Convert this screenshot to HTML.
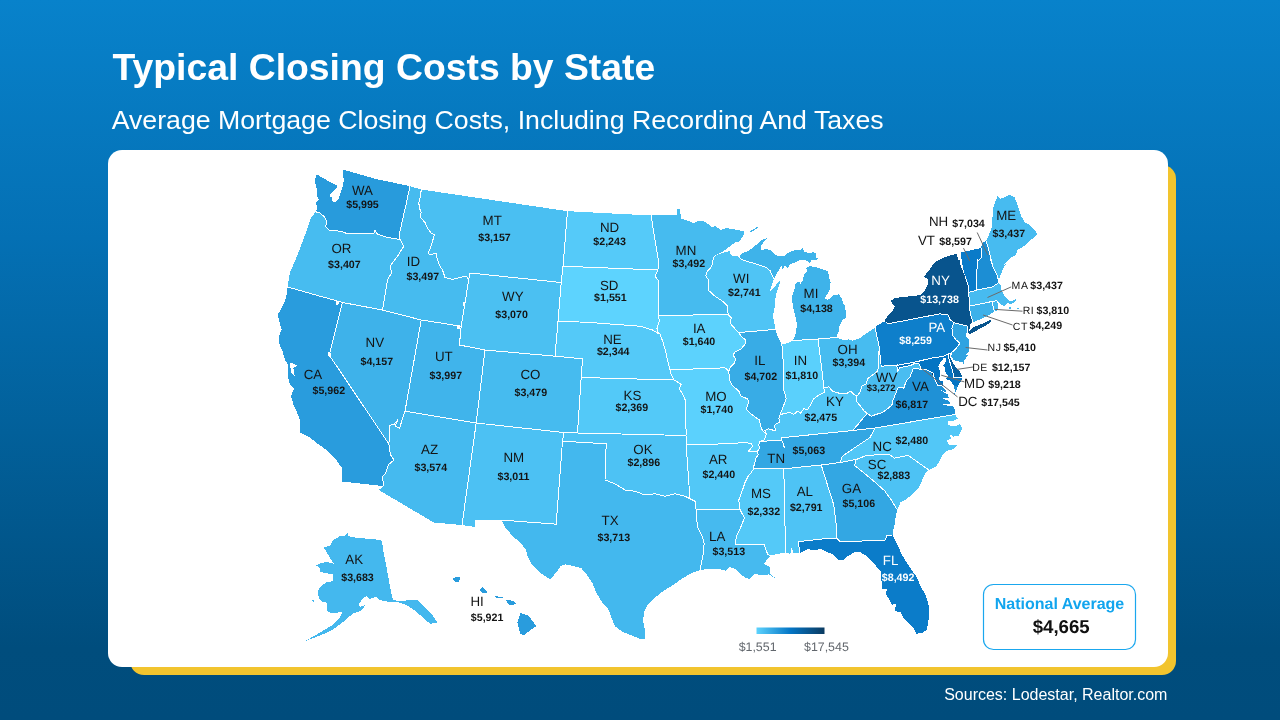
<!DOCTYPE html>
<html lang="en">
<head>
<meta charset="utf-8">
<title>Typical Closing Costs by State</title>
<style>
html,body{margin:0;padding:0}
body{width:1280px;height:720px;overflow:hidden;position:relative;font-family:"Liberation Sans",sans-serif;
background:linear-gradient(180deg,#0882cb 0%,#0470b4 33%,#02609a 60%,#004d7d 90%,#004c7c 100%)}
.title{position:absolute;left:112.5px;top:44.8px;margin:0;font-size:37.33px;font-weight:bold;color:#fff;line-height:44px;white-space:nowrap}
.sub{position:absolute;left:111.7px;top:104.1px;margin:0;font-size:26.7px;font-weight:normal;color:#fff;line-height:32px;white-space:nowrap}
.shadow{position:absolute;left:130px;top:165px;width:1046px;height:510px;border-radius:14px;background:#f2c42e}
.card{position:absolute;left:108px;top:150px;width:1060px;height:517px;border-radius:14px;background:#fff}
.src{position:absolute;right:112.6px;top:686.1px;font-size:16px;color:#fff;line-height:18px;white-space:nowrap}
svg{position:absolute;left:0;top:0}
svg text{font-family:"Liberation Sans",sans-serif;text-rendering:geometricPrecision}
.ab{font-size:13.33px;text-anchor:middle}
.ab.sm{font-size:10.5px;letter-spacing:0.6px}
.va{font-size:10.67px;font-weight:bold;text-anchor:middle}
.va.wv{font-size:9.4px}
.lg{font-size:12.4px;fill:#62676d;text-anchor:middle}
</style>
</head>
<body>
<h1 class="title">Typical Closing Costs by State</h1>
<h2 class="sub">Average Mortgage Closing Costs, Including Recording And Taxes</h2>
<div class="shadow"></div>
<div class="card"></div>
<svg width="1280" height="720" viewBox="0 0 1280 720">
<defs>
<linearGradient id="lg" x1="0" x2="1" y1="0" y2="0">
<stop offset="0" stop-color="#5dd3fe"/><stop offset="0.5" stop-color="#0475c5"/><stop offset="1" stop-color="#0b3a60"/>
</linearGradient>
</defs>
<g stroke="none" shape-rendering="crispEdges">
<path d="M323.8,547.5 330,545.6 333.1,540 340,536.2 345,535.6 347.5,533.1 348.8,536.2 355,537.5 365,538.5 375,539.4 381.9,540.6 383.1,550 386.2,565 388.8,580 391.2,592.5 393.1,600 400,601.2 410,600 417.5,600 432.5,615 437.5,622.5 430,623.8 420,615 412.5,608.8 406.2,605 397.5,602 387.5,601.5 380,600.2 376.2,597.2 371.2,597.8 370,600 366.2,596.2 361.9,599.4 358.5,605 360,606.9 365,605 363.8,607.5 360,611.2 352.5,613.8 342.5,622.5 332.5,630 320,635.5 305,641.2 320,632.5 332.5,625 340,617.5 342.5,612 337.5,612.5 330,612.5 326.9,611.2 327.5,606.2 326.2,602.5 321.2,601.2 319.4,598.8 317.5,593.8 318.8,588.8 322.5,585 326.2,582.5 333.1,581.2 333.1,574.4 326.2,573.1 320,571.9 320,568.1 316.2,565.6 318.8,563.8 326.2,561.9 334.4,563.8 331.2,560 327.5,553.8ZM311.2,600 314.4,600.4 313.8,602.2Z" fill="#44b8ee"/>
<path d="M783.8,468.8 821.2,465 833.8,505 836.2,525 836.2,538 821.2,539.1 798.4,541.6 799.7,552.8 793.5,553.4 791.6,547.2 790.3,553.8 785.6,552.8 783.8,468.8Z" fill="#4ec3f5"/>
<path d="M686.2,445 725,443.8 746.2,442.5 751.2,443.8 752.5,446.2 750,449.4 748.1,451.2 757.5,451.2 758.1,455 755.6,458.8 755,462.5 753.8,466.2 753.8,468.8 751.2,472.5 748.1,476.2 745,482.5 742.5,490 738.8,500 740,509.5 696.2,510 695,501.2 690,498.8 689.5,492.5 686.2,445Z" fill="#52c8f7"/>
<path d="M405,411.2 476.2,423 462,525 433.8,522.5 378.8,490 383.8,486.2 383.8,484.4 381.9,476.9 385.6,473.1 388.4,464.7 394.1,460 390.3,454.4 388.8,443.8 389.8,433.8 389.4,425.3 394.1,424.4 397.8,419.7 395,426.2 399.7,428.1 402.1,419.7 405,411.2Z" fill="#45baef"/>
<path d="M287.5,287 342.5,302.5 329.2,355 388.8,443.8 390.3,454.4 394.1,460 388.4,464.7 385.6,473.1 381.9,476.9 383.8,484.4 383.8,486.2 342.5,481.6 341.6,467.5 335,458.1 327.5,450.6 318.1,444.1 309.7,437.5 300.3,432.8 300.3,420.6 296.6,411.2 293.8,405.6 290.9,396.2 293.8,388.8 290,385 288.1,377.5 288.1,364.4 285.3,360.6 282.5,351.2 278.8,342.8 278.8,336.2 281.6,329.7 279.7,323.1 277.8,314.7 282.5,306.2 286.2,297.8 287.5,287Z" fill="#299cdd"/>
<path d="M485,350 555,356.2 582.5,358.8 581.2,377.5 577.5,433 563.8,432.5 476.2,423 485,350Z" fill="#46bbef"/>
<path d="M969.4,306.2 991.9,301.5 993.8,309.4 994.4,311.9 988.8,315 980,319.4 973.8,321.9 972.5,320.6 970.6,315 969.4,306.2Z" fill="#3db1ea"/>
<path d="M948.1,354.5 949.4,353.4 950.6,353.1 950,357.5 951.9,361.2 954.4,365 956.2,368.1 959.4,371.2 961.6,375 961.9,377.2 953.8,377.5 953.1,373.8 951.2,366.2 949.4,360.6 948.1,354.5Z" fill="#0760a0"/>
<path d="M836.2,538 840.6,541.9 885.6,540 886.6,535.3 892.5,535 897.8,545.6 902.5,555.9 909.1,566.2 915.6,575.6 921.2,586.9 925.9,596.2 928.8,605.6 929.1,616.9 927.8,624.4 926.9,630 922.2,632.8 916.6,633.8 913.8,628.1 908.1,622.5 903.4,617.8 900.6,612.2 895,611.2 895.9,603.8 892.2,604.7 888.4,598.1 885.6,593.4 887.5,588.8 881.9,588.8 881.5,581.2 880.9,571.9 876.2,566.2 870.6,560.6 865,555 860.3,552.2 854.7,552.2 848.1,555.9 843.4,559.7 837.8,559.7 833.1,554.1 827.5,552.2 821.2,549.1 813.8,550 807.2,549.1 802.5,551.9 799.7,552.8 798.4,541.6 821.2,539.1 836.2,538Z" fill="#0b7cc9"/>
<path d="M821.2,465 840,462.5 856.2,459.5 854.7,465.6 863.1,472.2 874.4,481.6 884.7,490.9 892.2,501.2 895.9,507.8 897.5,510 895.9,514.4 895,523.8 892.8,531.2 892.5,535 886.6,535.3 885.6,540 840.6,541.9 836.2,538 836.2,525 833.8,505 821.2,465Z" fill="#33a7e3"/>
<path d="M452,578.8 456.2,577 460,577.5 459.2,581.5 455,582ZM480,589.7 482.8,587.2 487.5,592.5 481.9,592.9ZM495,596.2 503.4,597 503.1,598.1 495,597.4ZM506.2,599.6 513.8,600.9 516.6,603.8 510.9,605.6 507.2,602.8ZM520.3,613.1 528.8,615.9 536.2,626.2 530.6,630 524.1,635.2 520.3,633.8 517.5,622.5Z" fill="#299cdd"/>
<path d="M658.1,315.6 728.1,314.4 731.2,317.5 730.6,323.8 735,328.8 738.8,332.5 741.2,336.2 745.6,340 745,344.4 741.2,348.8 735,351.9 733.1,355 735.6,358.8 734.4,363.1 730.6,366.9 728.8,371.2 725,367.8 702.5,368.8 670,369.5 668.1,362.5 665.6,351.2 663.1,342.5 660,333.8 658.8,333.8 656.9,328.8 659.4,320.6 658.1,315.6Z" fill="#5cd2fd"/>
<path d="M410,186.2 421.2,189.5 420.6,196.2 418.8,202.5 419.4,208.1 421.2,212.5 420,216.9 425,222.5 427.5,228.1 431.2,233.1 434.4,235 432.5,241.2 430.6,247.5 428.1,252.5 430,255 433.8,253.8 436.2,253.8 437.5,260 440,266.2 442.5,270 445,277.5 452.5,279.5 460,277.5 466.2,276.2 468.8,279.5 461.2,326.2 421.2,320 382.5,310 387.5,280 391.8,272.5 390,266.2 397.5,256.2 403.8,246.2 400,239.5 399.4,233.8 402.5,220 406.2,203.8 410,186.2Z" fill="#46bbef"/>
<path d="M738.8,332.5 775.6,329.4 777.5,336.2 780.6,342.5 781.9,344.4 782.5,355 783.8,365 783.8,390 785,393.8 786.2,398.8 783.8,405 781.9,410 780,415 778.8,418.8 780,421.9 776.2,423.8 774.4,425.6 775.6,430.6 772.5,430 768.1,428.8 765,430.6 766.2,433.8 762.5,430.6 760.6,426.2 759.4,420 755,416.9 750,413.1 746.2,408.8 748.8,402.5 747.5,398.8 741.2,396.2 738.8,391.2 731.9,385 729.4,380 728.8,371.2 730.6,366.9 734.4,363.1 735.6,358.8 733.1,355 735,351.9 741.2,348.8 745,344.4 745.6,340 741.2,336.2 738.8,332.5Z" fill="#38ace6"/>
<path d="M781.9,344.4 787.5,343.1 793.1,340.6 818.1,339 820,355 821.9,370 823.8,387.5 824.4,392.5 818.8,395 813.8,398.8 810.6,405 807.5,409.4 803.8,408.8 800.6,413.1 797.5,411.2 793.8,414.4 790,412.5 786.2,413.1 783.1,413.8 780,415 781.9,410 783.8,405 786.2,398.8 785,393.8 783.8,390 783.8,365 782.5,355 781.9,344.4Z" fill="#5ad0fc"/>
<path d="M581.2,377.5 673.8,380 677.5,381.9 681.2,384.4 679.4,388.8 683.1,395 685.2,400 686.2,435.5 577.5,433 581.2,377.5Z" fill="#53c9f8"/>
<path d="M766.2,433.8 765,430.6 768.1,428.8 772.5,430 775.6,430.6 774.4,425.6 776.2,423.8 780,421.9 778.8,418.8 780,415 783.1,413.8 786.2,413.1 790,412.5 793.8,414.4 797.5,411.2 800.6,413.1 803.8,408.8 807.5,409.4 810.6,405 813.8,398.8 818.8,395 824.4,392.5 823.8,387.5 828.8,386.9 832.5,391.2 838.8,393.1 846.2,393.8 850.6,391.2 853.8,394.4 856.9,396.2 856.2,401.2 860.6,406.2 863.8,410.6 867.5,413.8 862.5,418.8 857.5,425 852.5,430.5 781.2,437.8 781.5,440.6 760,441.2 763.8,440 765.6,437.5 766.2,433.8Z" fill="#52c7f7"/>
<path d="M696.2,510 740,509.5 744.4,518.1 740.6,527.5 736.9,535 735,544.4 764.1,544.4 767.8,554.7 770.6,555.6 766.9,559.4 764.1,564.1 769.7,566.9 770.6,574.4 775.3,578.1 768.8,574.4 761.2,575.3 754.7,573.4 750,579.1 744.4,577.2 738.8,572.5 735,568.8 729.4,566.9 725.6,570.6 718.1,568.8 708.8,568.8 700,570 701.2,564.4 703.1,555 704.1,543.8 702.2,536.2 697.5,526.9 696.6,517.5 696.2,510Z" fill="#46baef"/>
<path d="M968.8,292.5 976.9,290 992.5,286.9 998.1,283.1 1001.2,285 1000.6,288.1 1003.1,293.8 1005.6,297.5 1010,301.2 1014.4,300.2 1016,299 1016.5,300.2 1013.8,302.5 1010.6,304 1007.5,303.1 1003.8,306.2 1000,303.8 996.9,300.6 991.9,301.5 969.4,306.2 968.8,292.5ZM1016.5,307.5 1018.5,307.5 1018.5,308.8 1016.5,308.8ZM1008.8,307.5 1011,307.2 1011.2,308.8 1009,308.8Z" fill="#47bbf0"/>
<path d="M896.9,365.6 900,364.7 912.5,362.5 920,360.9 931.2,358.1 943.1,356.4 946.2,355 948.1,354.5 949.4,360.6 951.2,366.2 953.1,373.8 953.8,377.5 961.9,377.2 961.6,380 960,382.5 957.5,386.5 953.8,385.6 950,380 948.1,380.6 946.2,378.8 948.1,376.2 946.6,373.8 945.3,371.2 945,367.5 943.1,366.2 943.8,364.4 946.6,361.2 946.2,358.8 944.1,357.8 943.1,358.8 940.6,361.9 938.8,365 938.4,366.9 939.4,369.4 940,372.5 940,376.2 938.8,378.8 940,380.6 942.5,381.2 942.5,385 945,388.8 942.5,386.2 937.5,385 934.1,377.5 933.1,373.1 929.4,371.2 925,369.2 921.2,369.4 920.3,366.2 918.8,363.6 914.7,363.2 911.9,364.9 906.2,366.4 900,367.6 897.5,371.9 896.9,365.6Z" fill="#0474c3"/>
<path d="M986.2,241.2 989.4,233.8 991.9,227.5 992.5,217.5 993.1,208.8 995,202.5 997.5,196.2 1000.6,198.8 1005,196.9 1009.4,195 1014.4,196.9 1017.5,205 1021.2,216.2 1025,222.5 1030,225 1034.4,230 1037.5,233.8 1034.4,237.5 1030,240 1025.6,245 1021.2,248.1 1017.5,250 1015.6,255 1011.2,257.5 1007.5,261.2 1003.8,265 1006.2,263.8 1003.8,267.5 1001.9,271.9 1000,276.2 998.8,281.9 997.5,276.2 993.8,268.8 990.6,260 992.5,265 988.8,250 986.2,241.2Z" fill="#47bbf0"/>
<path d="M738.8,256.2 742.5,253.1 748.8,250.6 753.8,246.9 757.5,243.8 761.2,240 766.9,238.1 763.8,241.9 760.6,246.9 761.2,250.6 765,249 770,250 773.8,253.8 778.8,256.2 783.8,256.2 787.5,253.1 792.5,250.6 800,250 802.5,248.1 804.4,251.9 808.8,253.1 813.8,252.2 816,253.8 816.2,257.5 818.8,259 815,260 811.9,260 809.4,263.1 807.5,260.6 800,260.2 795,262.5 790,264.4 788.1,268.1 785,265.6 782.5,268.8 781.2,265.6 778.8,270 776.2,275 773.8,278.8 771.9,275 770,270.6 766.2,267.5 757.5,264.4 748.8,261.9 741.2,259.4 738.8,256.2ZM793.1,340.6 795.6,333.8 796.9,326.2 796.2,318.8 793.8,311.2 793.1,306.2 791.9,300 792.5,295 794.4,290 795.6,283.8 799.4,281.2 800,284.4 803.1,280 803.8,274.4 807.5,271.2 806.2,268.1 809.4,266.2 815,266.9 822.5,269.4 828.1,271.2 828.8,276.2 830.6,282.5 830,288.8 827.5,293.8 824.4,298.1 827.5,300 831.2,297.5 833.8,295 838.8,294.4 841.9,298.8 843.8,305 844.4,305 846.2,312.5 845.6,318.1 842.5,320 839.4,326.2 838.8,331.2 836.2,337.5 818.1,339 793.1,340.6ZM750,231.2 757.5,226.8 758.2,227.5 751.2,232Z" fill="#3eb3ea"/>
<path d="M651.2,215.5 676.9,215 677.5,208.8 679.4,208.5 680.6,214.4 681.2,218.8 686.2,220 693.8,223.1 697.5,221.2 703.8,221.2 708.8,224.4 711.9,227.5 715,226.2 721.2,230 727.5,227.5 730.6,229.4 735,229.4 740,230.6 743.8,230.6 744.4,233.8 741.9,237.5 740,241.2 735,242.5 730,246.2 725,250 720,253.1 715,255.6 714.2,256.2 712.5,261.2 711.9,266.2 707.5,271.2 705.6,275.6 708.1,279.4 708.1,285 708.2,290 715,296.2 722.5,301.2 727.5,306.2 728.1,314.4 658.1,315.6 658.8,281.2 655,276.2 658,270 658.1,258.8 656.2,247.5 654.4,236.2 652.5,225 651.2,215.5Z" fill="#46bbef"/>
<path d="M670,369.5 702.5,368.8 725,367.8 728.8,371.2 729.4,380 731.9,385 738.8,391.2 741.2,396.2 747.5,398.8 748.8,402.5 746.2,408.8 750,413.1 755,416.9 759.4,420 760.6,426.2 762.5,430.6 766.2,433.8 765.6,437.5 763.8,440 760,441.2 758.8,445 759.4,448.8 757.5,451.2 748.1,451.2 750,449.4 752.5,446.2 751.2,443.8 746.2,442.5 725,443.8 686.2,445 686.2,435.5 685.2,400 683.1,395 679.4,388.8 681.2,384.4 677.5,381.9 673.8,380 671.2,374.4 670,369.5Z" fill="#5bd1fd"/>
<path d="M753.8,468.8 783.8,468.8 785.6,552.8 778.1,553.8 770.6,555.6 767.8,554.7 764.1,544.4 735,544.4 736.9,535 740.6,527.5 744.4,518.1 740,509.5 738.8,500 742.5,490 745,482.5 748.1,476.2 751.2,472.5 753.8,468.8Z" fill="#54c9f8"/>
<path d="M421.2,189.5 567.5,211.2 563,266.2 561.2,282.5 470,273 468.8,279.5 466.2,276.2 460,277.5 452.5,279.5 445,277.5 442.5,270 440,266.2 437.5,260 436.2,253.8 433.8,253.8 430,255 428.1,252.5 430.6,247.5 432.5,241.2 434.4,235 431.2,233.1 427.5,228.1 425,222.5 420,216.9 421.2,212.5 419.4,208.1 418.8,202.5 420.6,196.2 421.2,189.5Z" fill="#4abff2"/>
<path d="M875,428 955,414.5 957.8,418.8 951.2,421.6 947.5,420.6 948.4,425.3 955,426.2 959.7,424.4 962.5,428.1 958.8,435.6 953.1,436.6 949.4,433.8 951.2,438.4 946.6,440.3 949.4,445 957.8,445 954.1,448.8 947.5,450.6 942.8,454.4 940,460 936.2,466.6 928.8,470 908.1,455.3 894.1,458.1 889.4,454.4 866.9,455.3 856.2,459.5 840,462.5 842.5,456.2 855,447.5 870,437.5 875,428Z" fill="#52c7f7"/>
<path d="M567.5,211.2 651.2,215.5 652.5,225 654.4,236.2 656.2,247.5 658.1,258.8 658,270 563,266.2 567.5,211.2Z" fill="#55caf9"/>
<path d="M558,321 590,322.5 640,326.2 652.5,330 658.8,333.8 660,333.8 663.1,342.5 665.6,351.2 668.1,362.5 670,369.5 671.2,374.4 673.8,380 581.2,377.5 582.5,358.8 555,356.2 558,321Z" fill="#54c9f8"/>
<path d="M982.8,242.1 986.2,241.2 988.8,250 992.5,265 990.6,260 993.8,268.8 997.5,276.2 998.8,281.9 998.1,283.1 992.5,286.9 976.9,290 976.2,281.2 976.9,271.2 977.5,260 978.1,261.2 981.2,257.5 981.9,252.5 981,248.1Z" fill="#1c8ed4"/>
<path d="M953.8,322.8 967.5,326.2 967.2,330.6 966.2,333.8 965.6,336.2 968.1,338.1 969.1,340 968.8,346.2 968.8,351.2 966.2,354.4 967.8,355.6 966.2,357.5 964.4,360.6 962.8,366.2 962.5,361.9 960,361.6 956.2,361.2 953.1,359.4 951.2,356.2 951.9,353.4 950.6,353.1 953.1,351.2 956.2,348.1 959.4,344.1 960,343.1 956.2,340 952.5,335 951.9,328.1 953.8,322.8Z" fill="#2fa3e1"/>
<path d="M476.2,423 563.8,432.5 562.5,441.2 556.2,524.2 501.2,520 475,520 475,527 462,525 476.2,423Z" fill="#4cc1f3"/>
<path d="M342.5,302.5 382.5,310 421.2,320 405,411.2 402.1,419.7 399.7,428.1 395,426.2 397.8,419.7 394.1,424.4 389.4,425.3 389.8,433.8 388.8,443.8 329.2,355 342.5,302.5Z" fill="#3eb2ea"/>
<path d="M885.6,321.9 885,320 887.5,316.2 892.5,311.2 895,306.2 891.9,303.8 891.2,300.6 895,298.1 902.5,296.9 912.5,296.2 920,295 925,290 928.1,283.8 927.5,278.8 923.8,276.9 926.2,273.8 929.4,270 932.5,265 936.2,261.2 942.5,258.1 950,255.6 956.9,253.8 958.1,260 959.4,260 961.2,267.5 965,276.2 968.1,285 968.8,292.5 969.4,306.2 970.6,315 972.5,320.6 971.9,322.5 970.2,324.4 969.8,328.1 968.8,332.8 967.5,331.5 967.5,326.2 953.8,322.8 950,319.4 948.1,315 940,313.8 888.1,323.8 885.6,321.9Z" fill="#08548d"/>
<path d="M968.1,332.8 972.5,327.6 978.8,325 985,322.5 991,319.8 990.8,321.8 986.2,325.4 980,328.6 973.8,332 969.4,334.5Z" fill="#08548d"/>
<path d="M818.1,339 836.2,337.5 840,338.8 845,340.6 848.8,339.4 852.5,340.6 860,338.1 867.5,332.5 875,327.5 876.9,336.2 879.5,348.1 878.8,352.5 878.1,360 878.8,366.2 877.5,371.2 872.5,375 867.5,378.8 866.2,383.8 861.9,386.2 860,392.5 856.9,396.2 853.8,394.4 850.6,391.2 846.2,393.8 838.8,393.1 832.5,391.2 828.8,386.9 823.8,387.5 821.9,370 820,355 818.1,339Z" fill="#47bcf0"/>
<path d="M563.8,432.5 577.5,433 686.2,435.5 686.2,445 689.5,492.5 690,498.8 685,496.2 675,493.8 665,496.2 655,493.8 645,495 635,491.2 625,490 615,483.8 605,480 606.2,443.8 562.5,441.2 563.8,432.5Z" fill="#4dc2f4"/>
<path d="M315.8,211.8 320,213.1 324.4,216.9 326.9,221.2 325.6,226.9 330,230.6 341.2,231.2 347.5,233.8 360,233.8 373.8,233.8 375,230 376.9,233.8 387.5,237.5 400,239.5 403.8,246.2 397.5,256.2 390,266.2 391.8,272.5 387.5,280 382.5,310 342.5,302.5 287.5,287 290,272.5 297.5,255 305,235 311.2,217.5 315.8,211.8Z" fill="#47bcf0"/>
<path d="M875,327.5 876.2,326.2 884.4,321.2 885,323.1 885.6,321.9 888.1,323.8 940,313.8 948.1,315 950,319.4 953.8,322.8 951.9,328.1 952.5,335 956.2,340 960,343.1 959.4,344.1 956.2,348.1 953.1,351.2 950.6,353.1 949.4,353.4 948.1,354.5 946.2,355 943.1,356.4 931.2,358.1 920,360.9 912.5,362.5 900,364.7 896.9,365.6 897.5,365 881.2,366.2 880.2,357.5 879.5,348.1 876.9,336.2 875,327.5Z" fill="#0e7fcb"/>
<path d="M991.9,301.5 996.9,300.6 998.1,305 997.5,310 994.4,311.9 993.8,309.4 991.9,301.5Z" fill="#42b7ed"/>
<path d="M856.2,459.5 866.9,455.3 889.4,454.4 894.1,458.1 908.1,455.3 928.8,470 924.1,475 921.2,482.5 918.4,488.1 911.9,494.7 906.2,499.4 900.6,502.2 897.5,510 895.9,507.8 892.2,501.2 884.7,490.9 874.4,481.6 863.1,472.2 854.7,465.6 856.2,459.5Z" fill="#4dc2f4"/>
<path d="M563,266.2 658,270 655,276.2 658.8,281.2 658.1,315.6 659.4,320.6 656.9,328.8 658.8,333.8 652.5,330 640,326.2 590,322.5 558,321 561.2,282.5 563,266.2Z" fill="#5dd3fe"/>
<path d="M760,441.2 781.5,440.6 781.2,437.8 852.5,430.5 875,428 870,437.5 855,447.5 842.5,456.2 840,462.5 821.2,465 783.8,468.8 753.8,468.8 753.8,466.2 755,462.5 755.6,458.8 758.1,455 757.5,451.2 759.4,448.8 758.8,445 760,441.2Z" fill="#33a7e3"/>
<path d="M562.5,441.2 606.2,443.8 605,480 615,483.8 625,490 635,491.2 645,495 655,493.8 665,496.2 675,493.8 685,496.2 690,498.8 695,501.2 696.2,510 696.6,517.5 697.5,526.9 702.2,536.2 704.1,543.8 703.1,555 701.2,564.4 700,570 690,573.8 682.5,578.4 673.1,585 663.8,590.6 654.4,598.1 647.8,604.7 644.1,612.2 643.1,620.6 645,630 645.5,638.8 641.2,639.4 631.9,635.6 622.5,631.9 615,626.2 611.2,616.9 608.4,609.4 601.9,601.9 596.2,592.5 592.5,583.1 586.9,574.7 581.2,568.1 573.8,566.2 565.3,564.4 560.6,566.2 555.9,572.8 550.3,579.4 540,572.8 531.6,564.4 527.8,556.9 525.9,549.4 520.3,542.8 512.8,536.2 506.2,528.8 501.2,520 556.2,524.2 562.5,441.2Z" fill="#43b8ee"/>
<path d="M421.2,320 461.2,326.2 459.4,345 485,350 476.2,423 405,411.2 421.2,320Z" fill="#40b4eb"/>
<path d="M852.5,430.5 857.5,425 862.5,418.8 867.5,413.8 871.2,416.2 876.2,414.4 882.5,412.5 887.5,408.8 891.9,405 893.1,400 896.2,392.5 898.1,387.5 903.8,388.1 906.2,381.2 910,376.9 913.4,368.2 921.2,369.4 925,369.2 929.4,371.2 933.1,373.1 934.1,377.5 937.5,385 942.5,386.2 945,388.8 946.2,392.5 940,389.8 947.5,394.4 948.8,397.5 941.9,398.1 949.4,401.2 950,403.8 940.6,404 950,406.2 952.5,405.6 955,410 955,414.5 875,428 852.5,430.5ZM953.8,385.6 957.5,386.5 956.2,391.2 953.8,395.6 955,391.2Z" fill="#1f91d6"/>
<path d="M960.6,252.5 981,248.1 981.9,252.5 981.2,257.5 978.1,261.2 977.5,260 976.9,271.2 976.2,281.2 976.9,290 968.8,292.5 968.1,285 965,276.2 962.8,267.5 961.9,260 961.9,261.2 960.6,252.5Z" fill="#0a7bc9"/>
<path d="M315.8,211.8 317.5,206.9 315.6,202.5 318.8,200 316.9,196.2 317.5,191.2 315.6,185 315,178.8 316.9,174.4 321.9,177.5 327.5,180.6 333.8,183.8 337.5,185.6 335.6,189.4 330,195 329.4,196.9 331.9,197.5 332.5,201.2 335,202.5 338.8,198.8 340,193.8 342.5,187.5 343.8,180 342.5,169.4 375,178.8 410,186.2 406.2,203.8 402.5,220 399.4,233.8 400,239.5 387.5,237.5 376.9,233.8 375,230 373.8,233.8 360,233.8 347.5,233.8 341.2,231.2 330,230.6 325.6,226.9 326.9,221.2 324.4,216.9 320,213.1 315.8,211.8Z" fill="#289bdc"/>
<path d="M714.2,256.2 720,253.8 726.2,251.9 730,251.2 730.6,255 735,256.2 738.8,256.2 741.2,259.4 748.8,261.9 757.5,264.4 766.2,267.5 770,270.6 771.9,275 773.8,278.8 771.9,285 769.4,291.5 773.1,288.8 777.5,283.1 780.6,279.4 779.4,285 776.9,291.2 775.6,297.5 775,302.5 774.4,308.8 773.1,315 773.8,321.2 775.6,329.4 738.8,332.5 735,328.8 730.6,323.8 731.2,317.5 728.1,314.4 727.5,306.2 722.5,301.2 715,296.2 708.2,290 708.1,285 708.1,279.4 705.6,275.6 707.5,271.2 711.9,266.2 712.5,261.2 714.2,256.2Z" fill="#4fc4f5"/>
<path d="M856.9,396.2 860,392.5 861.9,386.2 866.2,383.8 867.5,378.8 872.5,375 877.5,371.2 878.8,366.2 878.1,360 878.8,352.5 879.5,348.1 880.2,357.5 881.2,366.2 897.5,365 896.9,365.6 897.5,371.9 900,367.6 906.2,366.4 911.9,364.9 914.7,363.2 918.8,363.6 920.3,366.2 921.2,369.4 913.4,368.2 910,376.9 906.2,381.2 903.8,388.1 898.1,387.5 896.2,392.5 893.1,400 891.9,405 887.5,408.8 882.5,412.5 876.2,414.4 871.2,416.2 867.5,413.8 863.8,410.6 860.6,406.2 856.2,401.2 856.9,396.2Z" fill="#49bdf1"/>
<path d="M468.8,279.5 470,273 561.2,282.5 558,321 555,356.2 485,350 459.4,345 461.2,326.2 468.8,279.5Z" fill="#4bc0f2"/>
<circle cx="933.1" cy="373.7" r="1.2" fill="#0b3a60" stroke="none"/>
<path d="M290,362.5 297.5,365.3 293.4,367.8 294.7,376.6 290.9,372.8 Z" fill="#fff" stroke="none"/>
<path d="M327.9,352.2 330.9,352.8 331.2,356.5 328.6,356.9 Z" fill="#fff" stroke="none"/>
<path d="M335.9,301 338.8,300.6 338.4,305.3 336.3,304.9 Z" fill="#fff" stroke="none"/>
<path d="M463.1,302.1 465.3,302.5 465.1,305.9 463.4,305.5 Z" fill="#fff" stroke="none"/>
<path d="M457.3,326 459.6,326 459.6,329.2 457.3,329.2 Z" fill="#fff" stroke="none"/>
</g>
<g stroke="#fff" stroke-width="1" fill="none" stroke-linejoin="round" shape-rendering="crispEdges">
<path d="M410,186.2 406.2,203.8 402.5,220 399.4,233.8 400,239.5M315.8,211.8 320,213.1 324.4,216.9 326.9,221.2 325.6,226.9 330,230.6 341.2,231.2 347.5,233.8 360,233.8 373.8,233.8 375,230 376.9,233.8 387.5,237.5 400,239.5M400,239.5 403.8,246.2 397.5,256.2 390,266.2 391.8,272.5 387.5,280 382.5,310M342.5,302.5 382.5,310M287.5,287 342.5,302.5M342.5,302.5 329.2,355 388.8,443.8M388.8,443.8 390.3,454.4 394.1,460 388.4,464.7 385.6,473.1 381.9,476.9 383.8,484.4 383.8,486.2M382.5,310 421.2,320M421.2,320 405,411.2M405,411.2 402.1,419.7 399.7,428.1 395,426.2 397.8,419.7 394.1,424.4 389.4,425.3 389.8,433.8 388.8,443.8M421.2,189.5 420.6,196.2 418.8,202.5 419.4,208.1 421.2,212.5 420,216.9 425,222.5 427.5,228.1 431.2,233.1 434.4,235 432.5,241.2 430.6,247.5 428.1,252.5 430,255 433.8,253.8 436.2,253.8 437.5,260 440,266.2 442.5,270 445,277.5 452.5,279.5 460,277.5 466.2,276.2 468.8,279.5M468.8,279.5 461.2,326.2M421.2,320 461.2,326.2M567.5,211.2 563,266.2M563,266.2 561.2,282.5M468.8,279.5 470,273 561.2,282.5M558,321 561.2,282.5M555,356.2 558,321M485,350 555,356.2M461.2,326.2 459.4,345 485,350M485,350 476.2,423M405,411.2 476.2,423M555,356.2 582.5,358.8 581.2,377.5M581.2,377.5 577.5,433M563.8,432.5 577.5,433M476.2,423 563.8,432.5M476.2,423 462,525M563.8,432.5 562.5,441.2M562.5,441.2 556.2,524.2 501.2,520M651.2,215.5 652.5,225 654.4,236.2 656.2,247.5 658.1,258.8 658,270M563,266.2 658,270M658,270 655,276.2 658.8,281.2 658.1,315.6M658.1,315.6 659.4,320.6 656.9,328.8 658.8,333.8M558,321 590,322.5 640,326.2 652.5,330 658.8,333.8M658.8,333.8 660,333.8 663.1,342.5 665.6,351.2 668.1,362.5 670,369.5M670,369.5 671.2,374.4 673.8,380M581.2,377.5 673.8,380M673.8,380 677.5,381.9 681.2,384.4 679.4,388.8 683.1,395 685.2,400 686.2,435.5M577.5,433 686.2,435.5M686.2,435.5 686.2,445M686.2,445 689.5,492.5 690,498.8M562.5,441.2 606.2,443.8 605,480 615,483.8 625,490 635,491.2 645,495 655,493.8 665,496.2 675,493.8 685,496.2 690,498.8M690,498.8 695,501.2 696.2,510M696.2,510 696.6,517.5 697.5,526.9 702.2,536.2 704.1,543.8 703.1,555 701.2,564.4 700,570M714.2,256.2 712.5,261.2 711.9,266.2 707.5,271.2 705.6,275.6 708.1,279.4 708.1,285 708.2,290 715,296.2 722.5,301.2 727.5,306.2 728.1,314.4M658.1,315.6 728.1,314.4M728.1,314.4 731.2,317.5 730.6,323.8 735,328.8 738.8,332.5M738.8,332.5 741.2,336.2 745.6,340 745,344.4 741.2,348.8 735,351.9 733.1,355 735.6,358.8 734.4,363.1 730.6,366.9 728.8,371.2M670,369.5 702.5,368.8 725,367.8 728.8,371.2M728.8,371.2 729.4,380 731.9,385 738.8,391.2 741.2,396.2 747.5,398.8 748.8,402.5 746.2,408.8 750,413.1 755,416.9 759.4,420 760.6,426.2 762.5,430.6 766.2,433.8M766.2,433.8 765.6,437.5 763.8,440 760,441.2M760,441.2 758.8,445 759.4,448.8 757.5,451.2M686.2,445 725,443.8 746.2,442.5 751.2,443.8 752.5,446.2 750,449.4 748.1,451.2 757.5,451.2M757.5,451.2 758.1,455 755.6,458.8 755,462.5 753.8,466.2 753.8,468.8M753.8,468.8 751.2,472.5 748.1,476.2 745,482.5 742.5,490 738.8,500 740,509.5M696.2,510 740,509.5M740,509.5 744.4,518.1 740.6,527.5 736.9,535 735,544.4 764.1,544.4 767.8,554.7 770.6,555.6M738.8,256.2 741.2,259.4 748.8,261.9 757.5,264.4 766.2,267.5 770,270.6 771.9,275 773.8,278.8M738.8,332.5 775.6,329.4M781.9,344.4 782.5,355 783.8,365 783.8,390 785,393.8 786.2,398.8 783.8,405 781.9,410 780,415M766.2,433.8 765,430.6 768.1,428.8 772.5,430 775.6,430.6 774.4,425.6 776.2,423.8 780,421.9 778.8,418.8 780,415M793.1,340.6 818.1,339M818.1,339 820,355 821.9,370 823.8,387.5M780,415 783.1,413.8 786.2,413.1 790,412.5 793.8,414.4 797.5,411.2 800.6,413.1 803.8,408.8 807.5,409.4 810.6,405 813.8,398.8 818.8,395 824.4,392.5 823.8,387.5M818.1,339 836.2,337.5M875,327.5 876.9,336.2 879.5,348.1M856.9,396.2 860,392.5 861.9,386.2 866.2,383.8 867.5,378.8 872.5,375 877.5,371.2 878.8,366.2 878.1,360 878.8,352.5 879.5,348.1M823.8,387.5 828.8,386.9 832.5,391.2 838.8,393.1 846.2,393.8 850.6,391.2 853.8,394.4 856.9,396.2M856.9,396.2 856.2,401.2 860.6,406.2 863.8,410.6 867.5,413.8M867.5,413.8 862.5,418.8 857.5,425 852.5,430.5M760,441.2 781.5,440.6 781.2,437.8 852.5,430.5M852.5,430.5 875,428M875,428 870,437.5 855,447.5 842.5,456.2 840,462.5M821.2,465 840,462.5M783.8,468.8 821.2,465M753.8,468.8 783.8,468.8M783.8,468.8 785.6,552.8M821.2,465 833.8,505 836.2,525 836.2,538M799.7,552.8 798.4,541.6 821.2,539.1 836.2,538M840,462.5 856.2,459.5M856.2,459.5 854.7,465.6 863.1,472.2 874.4,481.6 884.7,490.9 892.2,501.2 895.9,507.8 897.5,510M836.2,538 840.6,541.9 885.6,540 886.6,535.3 892.5,535M856.2,459.5 866.9,455.3 889.4,454.4 894.1,458.1 908.1,455.3 928.8,470M875,428 955,414.5M867.5,413.8 871.2,416.2 876.2,414.4 882.5,412.5 887.5,408.8 891.9,405 893.1,400 896.2,392.5 898.1,387.5 903.8,388.1 906.2,381.2 910,376.9 913.4,368.2 921.2,369.4M921.2,369.4 925,369.2 929.4,371.2 933.1,373.1 934.1,377.5 937.5,385 942.5,386.2 945,388.8M879.5,348.1 880.2,357.5 881.2,366.2 897.5,365 896.9,365.6M896.9,365.6 897.5,371.9 900,367.6 906.2,366.4 911.9,364.9 914.7,363.2 918.8,363.6 920.3,366.2 921.2,369.4M885.6,321.9 888.1,323.8 940,313.8 948.1,315 950,319.4 953.8,322.8M953.8,322.8 951.9,328.1 952.5,335 956.2,340 960,343.1 959.4,344.1 956.2,348.1 953.1,351.2 950.6,353.1M948.1,354.5 949.4,353.4 950.6,353.1M896.9,365.6 900,364.7 912.5,362.5 920,360.9 931.2,358.1 943.1,356.4 946.2,355 948.1,354.5M948.1,354.5 949.4,360.6 951.2,366.2 953.1,373.8 953.8,377.5 961.9,377.2M953.8,322.8 967.5,326.2M965,276.2 968.1,285 968.8,292.5M968.8,292.5 969.4,306.2M969.4,306.2 970.6,315 972.5,320.6M991.9,301.5 969.4,306.2M991.9,301.5 993.8,309.4 994.4,311.9M996.9,300.6 991.9,301.5M968.8,292.5 976.9,290M976.9,290 992.5,286.9 998.1,283.1M981,248.1 981.9,252.5 981.2,257.5 978.1,261.2 977.5,260 976.9,271.2 976.2,281.2 976.9,290M986.2,241.2 988.8,250 992.5,265 990.6,260 993.8,268.8 997.5,276.2 998.8,281.9M781.9,440.6 783.5,444.4 784.4,448.1"/>
</g>
<g stroke="#6b6b6b" stroke-width="1">
<line x1="977.2" y1="232.5" x2="987.8" y2="255"/>
<line x1="963.5" y1="248.1" x2="969.8" y2="261"/>
<line x1="1011.2" y1="286.9" x2="987.5" y2="297.5"/>
<line x1="1022.5" y1="311.2" x2="995" y2="309.4"/>
<line x1="1012.5" y1="325" x2="983.1" y2="315"/>
<line x1="987.5" y1="350" x2="965.6" y2="347.5"/>
<line x1="973.8" y1="366.9" x2="956.9" y2="369.4"/>
<line x1="964.4" y1="381.9" x2="941.2" y2="375.2"/>
<line x1="957.5" y1="396.9" x2="921.2" y2="368.1"/>
</g>
<g>
<text class="ab" x="362.5" y="195" fill="#141414">WA</text>
<text class="va" x="362.5" y="208.3" fill="#141414">$5,995</text>
<text class="ab" x="341.5" y="253" fill="#141414">OR</text>
<text class="va" x="344.4" y="268.3" fill="#141414">$3,407</text>
<text class="ab" x="413.5" y="265.5" fill="#141414">ID</text>
<text class="va" x="422.8" y="279.8" fill="#141414">$3,497</text>
<text class="ab" x="492.2" y="224.9" fill="#141414">MT</text>
<text class="va" x="494.5" y="240.9" fill="#141414">$3,157</text>
<text class="ab" x="512.8" y="300.5" fill="#141414">WY</text>
<text class="va" x="511.6" y="318.3" fill="#141414">$3,070</text>
<text class="ab" x="609.6" y="231.8" fill="#141414">ND</text>
<text class="va" x="609.6" y="244.8" fill="#141414">$2,243</text>
<text class="ab" x="609.2" y="290" fill="#141414">SD</text>
<text class="va" x="610.4" y="301.1" fill="#141414">$1,551</text>
<text class="ab" x="685.9" y="254.5" fill="#141414">MN</text>
<text class="va" x="688.8" y="266.8" fill="#141414">$3,492</text>
<text class="ab" x="741.2" y="283" fill="#141414">WI</text>
<text class="va" x="744.4" y="295.6" fill="#141414">$2,741</text>
<text class="ab" x="811" y="298" fill="#141414">MI</text>
<text class="va" x="816.5" y="311.8" fill="#141414">$4,138</text>
<text class="ab" x="699.2" y="333" fill="#141414">IA</text>
<text class="va" x="699" y="344.8" fill="#141414">$1,640</text>
<text class="ab" x="612.5" y="343.8" fill="#141414">NE</text>
<text class="va" x="613.2" y="354.8" fill="#141414">$2,344</text>
<text class="ab" x="632.5" y="400" fill="#141414">KS</text>
<text class="va" x="631.8" y="410.6" fill="#141414">$2,369</text>
<text class="ab" x="642.9" y="453.8" fill="#141414">OK</text>
<text class="va" x="643.8" y="465.6" fill="#141414">$2,896</text>
<text class="ab" x="715.9" y="400.8" fill="#141414">MO</text>
<text class="va" x="716.8" y="412.6" fill="#141414">$1,740</text>
<text class="ab" x="718.2" y="463.8" fill="#141414">AR</text>
<text class="va" x="718.8" y="477.6" fill="#141414">$2,440</text>
<text class="ab" x="759.8" y="365" fill="#141414">IL</text>
<text class="va" x="760.8" y="379.8" fill="#141414">$4,702</text>
<text class="ab" x="800.4" y="365" fill="#141414">IN</text>
<text class="va" x="801.8" y="378.8" fill="#141414">$1,810</text>
<text class="ab" x="847.6" y="354.2" fill="#141414">OH</text>
<text class="va" x="848.8" y="366.1" fill="#141414">$3,394</text>
<text class="ab" x="835" y="405.5" fill="#141414">KY</text>
<text class="va" x="820.8" y="420.6" fill="#141414">$2,475</text>
<text class="ab" x="776.2" y="463" fill="#141414">TN</text>
<text class="va" x="808.8" y="453.8" fill="#141414">$5,063</text>
<text class="ab" x="760.9" y="498" fill="#141414">MS</text>
<text class="va" x="763.8" y="514.8" fill="#141414">$2,332</text>
<text class="ab" x="804.8" y="496.2" fill="#141414">AL</text>
<text class="va" x="806.2" y="510.6" fill="#141414">$2,791</text>
<text class="ab" x="851.5" y="493" fill="#141414">GA</text>
<text class="va" x="858.8" y="506.8" fill="#141414">$5,106</text>
<text class="ab" x="886.6" y="381.8" fill="#141414">WV</text>
<text class="va wv" x="881.2" y="390.6" fill="#141414">$3,272</text>
<text class="ab" x="882.2" y="450.5" fill="#141414">NC</text>
<text class="va" x="911.8" y="444.3" fill="#141414">$2,480</text>
<text class="ab" x="877.1" y="468.8" fill="#141414">SC</text>
<text class="va" x="893.8" y="478.8" fill="#141414">$2,883</text>
<text class="ab" x="920.4" y="391.2" fill="#141414">VA</text>
<text class="va" x="911.8" y="407.6" fill="#141414">$6,817</text>
<text class="ab" x="936.8" y="332.2" fill="#fff">PA</text>
<text class="va" x="915.6" y="344.3" fill="#fff">$8,259</text>
<text class="ab" x="940.6" y="285" fill="#fff">NY</text>
<text class="va" x="939.6" y="303.4" fill="#fff">$13,738</text>
<text class="ab" x="1006.2" y="219.7" fill="#141414">ME</text>
<text class="va" x="1008.8" y="237.2" fill="#141414">$3,437</text>
<text class="ab" x="938.6" y="226.4" fill="#141414">NH</text>
<text class="va" x="968.5" y="227.2" fill="#141414">$7,034</text>
<text class="ab" x="926.4" y="244.7" fill="#141414">VT</text>
<text class="va" x="955.6" y="244.9" fill="#141414">$8,597</text>
<text class="ab sm" x="1020.1" y="288.5" fill="#141414">MA</text>
<text class="va" x="1046.6" y="288.6" fill="#141414">$3,437</text>
<text class="ab sm" x="1028.5" y="313.8" fill="#141414">RI</text>
<text class="va" x="1052.8" y="313.6" fill="#141414">$3,810</text>
<text class="ab sm" x="1020.4" y="329.5" fill="#141414">CT</text>
<text class="va" x="1045.8" y="328.6" fill="#141414">$4,249</text>
<text class="ab sm" x="994.5" y="350.5" fill="#141414">NJ</text>
<text class="va" x="1019.7" y="350.9" fill="#141414">$5,410</text>
<text class="ab sm" x="980.1" y="370.5" fill="#141414">DE</text>
<text class="va" x="1011.2" y="370.9" fill="#141414">$12,157</text>
<text class="ab" x="974.4" y="387.6" fill="#141414">MD</text>
<text class="va" x="1004.5" y="387.6" fill="#141414">$9,218</text>
<text class="ab" x="967.8" y="405.5" fill="#141414">DC</text>
<text class="va" x="1000.5" y="405.9" fill="#141414">$17,545</text>
<text class="ab" x="374.8" y="347" fill="#141414">NV</text>
<text class="va" x="376.8" y="364.8" fill="#141414">$4,157</text>
<text class="ab" x="312.9" y="378.8" fill="#141414">CA</text>
<text class="va" x="328.8" y="393.8" fill="#141414">$5,962</text>
<text class="ab" x="443.8" y="360.5" fill="#141414">UT</text>
<text class="va" x="445.8" y="378.8" fill="#141414">$3,997</text>
<text class="ab" x="530.4" y="378.8" fill="#141414">CO</text>
<text class="va" x="530.8" y="395.6" fill="#141414">$3,479</text>
<text class="ab" x="429.6" y="453.8" fill="#141414">AZ</text>
<text class="va" x="430.8" y="470.6" fill="#141414">$3,574</text>
<text class="ab" x="513.8" y="461.8" fill="#141414">NM</text>
<text class="va" x="513.5" y="479.8" fill="#141414">$3,011</text>
<text class="ab" x="610" y="525" fill="#141414">TX</text>
<text class="va" x="613.8" y="541.3" fill="#141414">$3,713</text>
<text class="ab" x="717.2" y="540.8" fill="#141414">LA</text>
<text class="va" x="728.8" y="554.8" fill="#141414">$3,513</text>
<text class="ab" x="890.6" y="565" fill="#fff">FL</text>
<text class="va" x="898.1" y="580.5" fill="#fff">$8,492</text>
<text class="ab" x="354.2" y="563.8" fill="#141414">AK</text>
<text class="va" x="357.5" y="581.3" fill="#141414">$3,683</text>
<text class="ab" x="477.1" y="606.2" fill="#141414">HI</text>
<text class="va" x="487.1" y="620.5" fill="#141414">$5,921</text>
</g>
<rect x="756.5" y="627.5" width="68" height="6.5" fill="url(#lg)"/>
<text class="lg" x="757.6" y="651">$1,551</text>
<text class="lg" x="826.4" y="651">$17,545</text>
<rect x="983.5" y="584.5" width="152" height="65" rx="10" ry="10" fill="#fff" stroke="#1aa7ee" stroke-width="1.2"/>
<text x="1059.5" y="608.75" text-anchor="middle" font-size="16" font-weight="bold" fill="#12a5ee">National Average</text>
<text x="1061.2" y="633.4" text-anchor="middle" font-size="18.67" font-weight="bold" fill="#111">$4,665</text>
</svg>
<div class="src">Sources: Lodestar, Realtor.com</div>
</body>
</html>
